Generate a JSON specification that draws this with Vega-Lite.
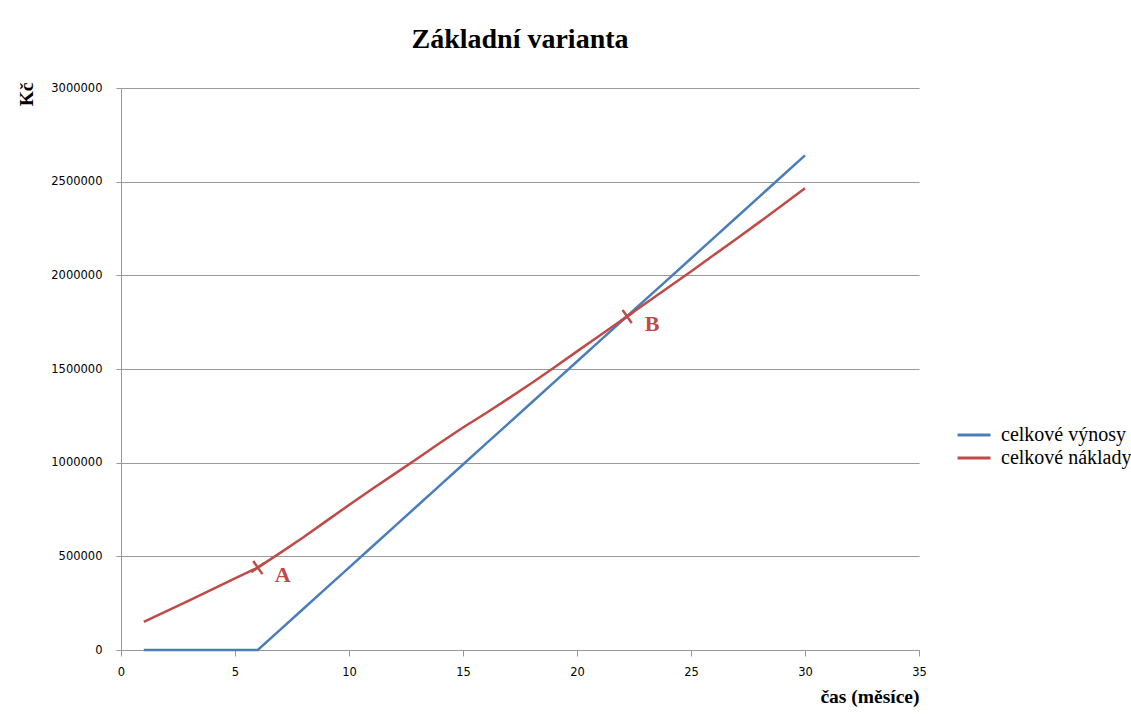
{
  "$schema": "https://vega.github.io/schema/vega-lite/v6.json",
  "width": 798,
  "height": 562,
  "autosize": {"type": "none"},
  "padding": {"left": 121, "top": 88, "right": 212, "bottom": 67},
  "background": "white",
  "config": {"view": {"stroke": null}},
  "title": {"text": "Základní varianta", "font": "Liberation Serif", "fontSize": 28, "fontWeight": "bold", "color": "#000000", "anchor": "middle", "offset": 28},
  "datasets": {
    "series": [
      {"month": 1, "value": 0, "series": "celkové výnosy"},
      {"month": 2, "value": 0, "series": "celkové výnosy"},
      {"month": 3, "value": 0, "series": "celkové výnosy"},
      {"month": 4, "value": 0, "series": "celkové výnosy"},
      {"month": 5, "value": 0, "series": "celkové výnosy"},
      {"month": 6, "value": 0, "series": "celkové výnosy"},
      {"month": 7, "value": 110000, "series": "celkové výnosy"},
      {"month": 8, "value": 220000, "series": "celkové výnosy"},
      {"month": 9, "value": 330000, "series": "celkové výnosy"},
      {"month": 10, "value": 440000, "series": "celkové výnosy"},
      {"month": 11, "value": 550000, "series": "celkové výnosy"},
      {"month": 12, "value": 660000, "series": "celkové výnosy"},
      {"month": 13, "value": 770000, "series": "celkové výnosy"},
      {"month": 14, "value": 880000, "series": "celkové výnosy"},
      {"month": 15, "value": 990000, "series": "celkové výnosy"},
      {"month": 16, "value": 1100000, "series": "celkové výnosy"},
      {"month": 17, "value": 1210000, "series": "celkové výnosy"},
      {"month": 18, "value": 1320000, "series": "celkové výnosy"},
      {"month": 19, "value": 1430000, "series": "celkové výnosy"},
      {"month": 20, "value": 1540000, "series": "celkové výnosy"},
      {"month": 21, "value": 1650000, "series": "celkové výnosy"},
      {"month": 22, "value": 1760000, "series": "celkové výnosy"},
      {"month": 23, "value": 1870000, "series": "celkové výnosy"},
      {"month": 24, "value": 1980000, "series": "celkové výnosy"},
      {"month": 25, "value": 2090000, "series": "celkové výnosy"},
      {"month": 26, "value": 2200000, "series": "celkové výnosy"},
      {"month": 27, "value": 2310000, "series": "celkové výnosy"},
      {"month": 28, "value": 2420000, "series": "celkové výnosy"},
      {"month": 29, "value": 2530000, "series": "celkové výnosy"},
      {"month": 30, "value": 2640000, "series": "celkové výnosy"},
      {"month": 1, "value": 150000, "series": "celkové náklady"},
      {"month": 2, "value": 207000, "series": "celkové náklady"},
      {"month": 3, "value": 265000, "series": "celkové náklady"},
      {"month": 4, "value": 324000, "series": "celkové náklady"},
      {"month": 5, "value": 382000, "series": "celkové náklady"},
      {"month": 6, "value": 440000, "series": "celkové náklady"},
      {"month": 7, "value": 520000, "series": "celkové náklady"},
      {"month": 8, "value": 602000, "series": "celkové náklady"},
      {"month": 9, "value": 688000, "series": "celkové náklady"},
      {"month": 10, "value": 774000, "series": "celkové náklady"},
      {"month": 11, "value": 858000, "series": "celkové náklady"},
      {"month": 12, "value": 940000, "series": "celkové náklady"},
      {"month": 13, "value": 1022000, "series": "celkové náklady"},
      {"month": 14, "value": 1106000, "series": "celkové náklady"},
      {"month": 15, "value": 1188000, "series": "celkové náklady"},
      {"month": 16, "value": 1264000, "series": "celkové náklady"},
      {"month": 17, "value": 1343000, "series": "celkové náklady"},
      {"month": 18, "value": 1424000, "series": "celkové náklady"},
      {"month": 19, "value": 1508000, "series": "celkové náklady"},
      {"month": 20, "value": 1594000, "series": "celkové náklady"},
      {"month": 21, "value": 1679000, "series": "celkové náklady"},
      {"month": 22, "value": 1764000, "series": "celkové náklady"},
      {"month": 23, "value": 1850000, "series": "celkové náklady"},
      {"month": 24, "value": 1935000, "series": "celkové náklady"},
      {"month": 25, "value": 2020000, "series": "celkové náklady"},
      {"month": 26, "value": 2108000, "series": "celkové náklady"},
      {"month": 27, "value": 2195000, "series": "celkové náklady"},
      {"month": 28, "value": 2284000, "series": "celkové náklady"},
      {"month": 29, "value": 2374000, "series": "celkové náklady"},
      {"month": 30, "value": 2465000, "series": "celkové náklady"}
    ],
    "points": [
      {"month": 6.0, "value": 440000, "label": "A"},
      {"month": 22.2, "value": 1780000, "label": "B"}
    ]
  },
  "layer": [
    {
      "data": {"name": "series"},
      "mark": {"type": "line", "strokeWidth": 2.5},
      "encoding": {
        "x": {
          "field": "month", "type": "quantitative",
          "scale": {"domain": [0, 35], "nice": false, "zero": false},
          "axis": {
            "values": [0, 5, 10, 15, 20, 25, 30, 35],
            "grid": false,
            "domainColor": "#999999", "tickColor": "#999999", "tickSize": 6,
            "labelFont": "DejaVu Sans", "labelFontSize": 11.5, "labelColor": "#000000",
            "labelPadding": 10, "labelFlush": false, "labelOverlap": false,
            "title": "čas (měsíce)", "titleFont": "Liberation Serif", "titleFontSize": 19.5,
            "titleFontWeight": "bold", "titleColor": "#000000", "titleAnchor": "end", "titlePadding": 10
          }
        },
        "y": {
          "field": "value", "type": "quantitative",
          "scale": {"domain": [0, 3000000], "nice": false},
          "axis": {
            "values": [0, 500000, 1000000, 1500000, 2000000, 2500000, 3000000],
            "format": "d",
            "grid": true, "gridColor": "#999999", "gridWidth": 1,
            "domainColor": "#999999", "tickColor": "#999999", "tickSize": 5,
            "labelFont": "DejaVu Sans", "labelFontSize": 11.5, "labelColor": "#000000",
            "labelPadding": 14, "labelOverlap": false,
            "title": "Kč", "titleFont": "Liberation Serif", "titleFontSize": 19.5,
            "titleFontWeight": "bold", "titleColor": "#000000", "titleAnchor": "end", "titlePadding": 14, "titleY": -6
          }
        },
        "color": {
          "field": "series", "type": "nominal",
          "scale": {"domain": ["celkové výnosy", "celkové náklady"], "range": ["#4A7EBB", "#BE4B48"]},
          "legend": {
            "orient": "none", "legendX": 840, "legendY": 334, "title": null,
            "symbolType": "M-1.43,0L1.43,0", "symbolSize": 529, "symbolStrokeWidth": 3,
            "labelFont": "Liberation Serif", "labelFontSize": 20, "labelColor": "#000000",
            "labelOffset": 14, "rowPadding": 0
          }
        }
      }
    },
    {
      "data": {"name": "points"},
      "mark": {"type": "point", "shape": "M-1,0L1,0M0,-1L0,1", "filled": false, "color": "#BE4B48", "strokeWidth": 2.5, "size": 256, "angle": -35, "opacity": 1},
      "encoding": {
        "x": {"field": "month", "type": "quantitative"},
        "y": {"field": "value", "type": "quantitative"}
      }
    },
    {
      "data": {"name": "points"},
      "mark": {"type": "text", "font": "Liberation Serif", "fontSize": 22, "fontWeight": "bold", "color": "#BE4B48", "dx": 25, "dy": 7, "align": "center", "baseline": "middle"},
      "encoding": {
        "x": {"field": "month", "type": "quantitative"},
        "y": {"field": "value", "type": "quantitative"},
        "text": {"field": "label"}
      }
    }
  ]
}
